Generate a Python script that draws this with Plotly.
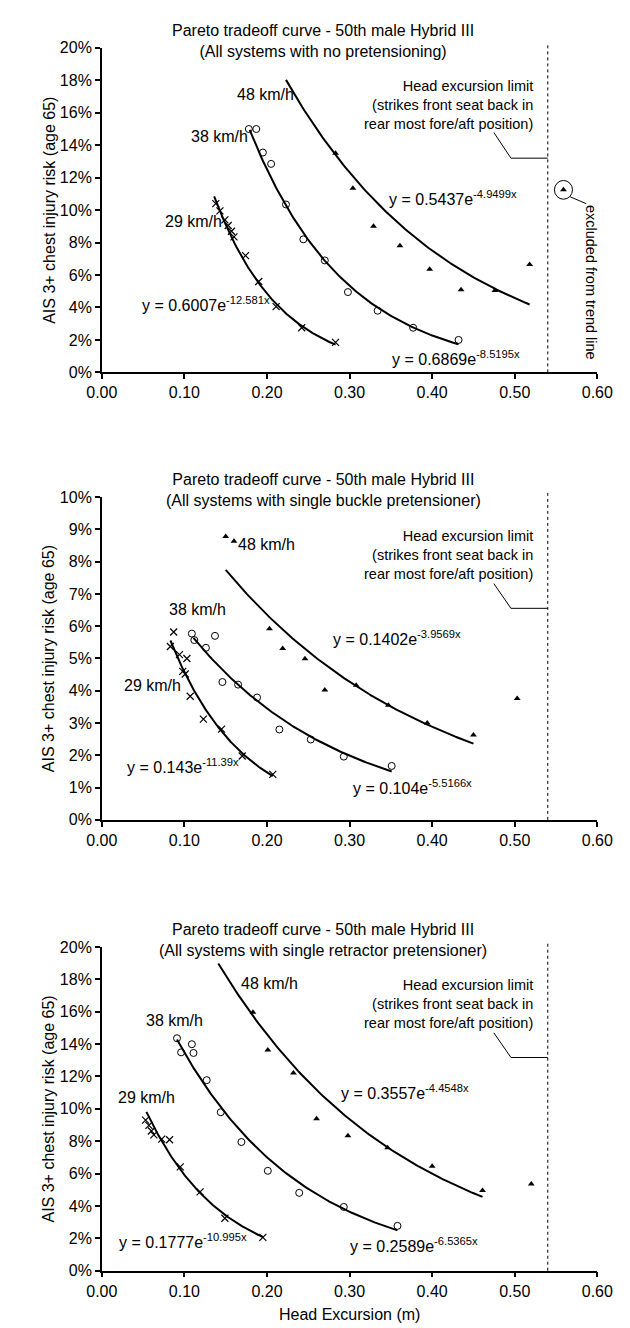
import numpy as np
import plotly.graph_objects as go

W, H = 630, 1328
FONT = "Liberation Sans, Arial, Helvetica, sans-serif"

# ---------------- data ----------------
title_line1 = "Pareto tradeoff curve - 50th male Hybrid III"
title_line2 = ["(All systems with no pretensioning)",
               "(All systems with single buckle pretensioner)",
               "(All systems with single retractor pretensioner)"]
speed_labels = ["29 km/h", "38 km/h", "48 km/h"]
x_ticks = [0.0, 0.1, 0.2, 0.3, 0.4, 0.5, 0.6]
y_max = [20, 10, 20]
y_dtick = [2, 1, 2]
head_limit = 0.54

# Panel 1: no pretensioning (values in %)
p1_x29 = [0.138, 0.143, 0.149, 0.153, 0.157, 0.160, 0.174, 0.190, 0.211, 0.242, 0.283]
p1_y29 = [10.4, 9.95, 9.4, 9.05, 8.7, 8.35, 7.2, 5.6, 4.05, 2.75, 1.85]
p1_x38 = [0.178, 0.187, 0.195, 0.205, 0.223, 0.244, 0.270, 0.298, 0.334, 0.377, 0.432]
p1_y38 = [15.0, 15.0, 13.55, 12.85, 10.35, 8.2, 6.9, 4.95, 3.8, 2.75, 2.0]
p1_x48 = [0.283, 0.304, 0.329, 0.361, 0.397, 0.435, 0.476, 0.518]
p1_y48 = [13.5, 11.35, 9.0, 7.8, 6.35, 5.1, 5.05, 6.65]
p1_excl_x = [0.559]
p1_excl_y = [11.25]

# Panel 2: single buckle pretensioner
p2_x29 = [0.083, 0.087, 0.094, 0.103, 0.098, 0.101, 0.107, 0.123, 0.145, 0.170, 0.207]
p2_y29 = [5.37, 5.82, 5.12, 5.0, 4.6, 4.52, 3.83, 3.12, 2.81, 1.98, 1.41]
p2_x38 = [0.109, 0.112, 0.126, 0.137, 0.146, 0.165, 0.188, 0.215, 0.253, 0.293, 0.351]
p2_y38 = [5.77, 5.57, 5.33, 5.7, 4.27, 4.19, 3.79, 2.8, 2.49, 1.96, 1.67]
p2_x48 = [0.150, 0.160, 0.203, 0.219, 0.246, 0.270, 0.308, 0.347, 0.394, 0.450, 0.503]
p2_y48 = [8.78, 8.63, 5.92, 5.31, 4.99, 4.02, 4.17, 3.55, 3.0, 2.63, 3.76]

# Panel 3: single retractor pretensioner
p3_x29 = [0.053, 0.057, 0.060, 0.063, 0.0725, 0.082, 0.095, 0.119, 0.149, 0.195]
p3_y29 = [9.3, 8.98, 8.63, 8.39, 8.13, 8.09, 6.41, 4.87, 3.24, 2.06]
p3_x38 = [0.091, 0.096, 0.109, 0.111, 0.127, 0.144, 0.169, 0.201, 0.239, 0.293, 0.358]
p3_y38 = [14.36, 13.49, 13.99, 13.45, 11.77, 9.79, 7.95, 6.17, 4.81, 3.94, 2.77]
p3_x48 = [0.183, 0.201, 0.232, 0.260, 0.298, 0.346, 0.400, 0.461, 0.520]
p3_y48 = [15.96, 13.63, 12.21, 9.38, 8.33, 7.6, 6.45, 4.95, 5.36]

# Trend line equations y = a*exp(b*x) and drawn x-extents
p1_trend_a = [0.6007, 0.6869, 0.5437]
p1_trend_b = [-12.581, -8.5195, -4.9499]
p1_trend_x = [[0.136, 0.283], [0.179, 0.432], [0.223, 0.518]]
p2_trend_a = [0.143, 0.104, 0.1402]
p2_trend_b = [-11.39, -5.5166, -3.9569]
p2_trend_x = [[0.083, 0.207], [0.111, 0.351], [0.150, 0.450]]
p3_trend_a = [0.1777, 0.2589, 0.3557]
p3_trend_b = [-10.995, -6.5365, -4.4548]
p3_trend_x = [[0.054, 0.195], [0.091, 0.358], [0.141, 0.461]]

eq_text = {
    1: ["y = 0.6007e<sup>-12.581x</sup>", "y = 0.6869e<sup>-8.5195x</sup>", "y = 0.5437e<sup>-4.9499x</sup>"],
    2: ["y = 0.143e<sup>-11.39x</sup>", "y = 0.104e<sup>-5.5166x</sup>", "y = 0.1402e<sup>-3.9569x</sup>"],
    3: ["y = 0.1777e<sup>-10.995x</sup>", "y = 0.2589e<sup>-6.5365x</sup>", "y = 0.3557e<sup>-4.4548x</sup>"],
}

panels = {
    1: dict(xs=[p1_x29, p1_x38, p1_x48], ys=[p1_y29, p1_y38, p1_y48],
            a=p1_trend_a, b=p1_trend_b, tx=p1_trend_x),
    2: dict(xs=[p2_x29, p2_x38, p2_x48], ys=[p2_y29, p2_y38, p2_y48],
            a=p2_trend_a, b=p2_trend_b, tx=p2_trend_x),
    3: dict(xs=[p3_x29, p3_x38, p3_x48], ys=[p3_y29, p3_y38, p3_y48],
            a=p3_trend_a, b=p3_trend_b, tx=p3_trend_x),
}

# ---------------- layout geometry (pixels) ----------------
X_LEFT, X_RIGHT = 82, 604
P_TOP = {1: 32.3, 2: 487.3, 3: 943.0}
P_BOT = {1: 361.0, 2: 814.3, 3: 1271.0}


def px2x(px):
    return px / W


def px2y(py):
    return 1 - py / H


def xdata2px(xv):
    return X_LEFT + (xv - x_ticks[0]) / (x_ticks[-1] - x_ticks[0]) * (X_RIGHT - X_LEFT)


def ydata2px(i, yv):
    return P_BOT[i] - yv / y_max[i - 1] * (P_BOT[i] - P_TOP[i])


markers = [
    dict(symbol="x-thin-open", size=7, line=dict(width=1.2, color="black"), color="black"),
    dict(symbol="circle-open", size=7, line=dict(width=1, color="black"), color="black"),
    dict(symbol="triangle-up", size=6, color="black", line=dict(width=0)),
]

fig = go.Figure()
annotations = []
shapes = []

for i in (1, 2, 3):
    xa = "x" if i == 1 else f"x{i}"
    ya = "y" if i == 1 else f"y{i}"
    p = panels[i]
    for k in range(3):
        fig.add_trace(go.Scatter(x=p["xs"][k], y=p["ys"][k], mode="markers",
                                 marker=markers[k], xaxis=xa, yaxis=ya,
                                 showlegend=False, cliponaxis=False))
        xx = np.linspace(p["tx"][k][0], p["tx"][k][1], 120)
        yy = p["a"][k] * np.exp(p["b"][k] * xx) * 100
        fig.add_trace(go.Scatter(x=xx, y=yy, mode="lines",
                                 line=dict(color="black", width=2),
                                 xaxis=xa, yaxis=ya, showlegend=False,
                                 hoverinfo="skip"))
    if i == 1:
        fig.add_trace(go.Scatter(x=p1_excl_x, y=p1_excl_y, mode="markers",
                                 marker=markers[2], xaxis=xa, yaxis=ya,
                                 showlegend=False, cliponaxis=False))

    dom_y = [px2y(P_BOT[i]), px2y(P_TOP[i])]
    axis_common = dict(showline=True, linecolor="black", linewidth=1.5,
                       ticks="outside", ticklen=5, tickwidth=1.5, tickcolor="black",
                       showgrid=False, zeroline=False,
                       tickfont=dict(family=FONT, size=16, color="black"))
    fig.update_layout(**{
        ("xaxis" if i == 1 else f"xaxis{i}"): dict(
            domain=[px2x(X_LEFT), px2x(X_RIGHT)], range=[x_ticks[0], x_ticks[-1]],
            tickvals=x_ticks, tickformat=".2f", anchor=ya, **axis_common),
        ("yaxis" if i == 1 else f"yaxis{i}"): dict(
            domain=dom_y, range=[0, y_max[i - 1]], dtick=y_dtick[i - 1],
            ticksuffix="%", anchor=xa, **axis_common),
    })

    # head excursion limit line (dotted)
    xl = xdata2px(head_limit)
    shapes.append(dict(type="line", xref="paper", yref="paper",
                       x0=px2x(xl), x1=px2x(xl), y0=px2y(P_BOT[i]), y1=px2y(P_TOP[i] - 5.5),
                       line=dict(color="black", width=1, dash="dot")))

    # titles (two lines, second line level with the top tick)
    annotations.append(dict(text=title_line1 + "<br>" + title_line2[i - 1],
                            x=px2x(315), y=px2y(P_TOP[i] - 7), xref="paper", yref="paper",
                            showarrow=False, xanchor="center", yanchor="middle",
                            font=dict(family=FONT, size=16, color="black")))
    # y-axis title
    annotations.append(dict(text="AIS 3+ chest injury risk (age 65)",
                            x=px2x(26), y=px2y((P_TOP[i] + P_BOT[i]) / 2),
                            xref="paper", yref="paper", showarrow=False, textangle=-90,
                            xanchor="center", yanchor="middle",
                            font=dict(family=FONT, size=16, color="black")))

# ---- text annotations positions (pixels) ----
speed_pos = {1: [(179, 208), (206, 122), (254, 80)],
             2: [(135, 678), (183, 601), (255, 535)],
             3: [(129, 1096), (159, 1018), (259, 980)]}
eq_pos = {1: [(122, 294), (386, 349), (382, 187)],
          2: [(106, 762), (345, 783), (323, 633)],
          3: [(98, 1243), (341, 1247), (332, 1092)]}
head_text_y = {1: 90, 2: 546, 3: 1001}
leader_pts = {1: [(495, 118), (513, 144)],
              2: [(495, 575), (513, 600)],
              3: [(495, 1030), (513, 1055)]}

for i in (1, 2, 3):
    for k in range(3):
        sx, sy = speed_pos[i][k]
        annotations.append(dict(text=speed_labels[k], x=px2x(sx), y=px2y(sy),
                                xref="paper", yref="paper", showarrow=False,
                                xanchor="center", yanchor="middle",
                                font=dict(family=FONT, size=16, color="black")))
        ex, ey = eq_pos[i][k]
        annotations.append(dict(text=eq_text[i][k], x=px2x(ex), y=px2y(ey - 2.5),
                                xref="paper", yref="paper", showarrow=False,
                                xanchor="left", yanchor="middle",
                                font=dict(family=FONT, size=16, color="black")))
    annotations.append(dict(text="Head excursion limit<br>(strikes front seat back in<br>rear most fore/aft position)",
                            x=px2x(538), y=px2y(head_text_y[i]), xref="paper", yref="paper",
                            showarrow=False, xanchor="right", yanchor="middle", align="right",
                            font=dict(family=FONT, size=14.5, color="black")))
    (ax0, ay0), (ax1, ay1) = leader_pts[i]
    xl = xdata2px(head_limit)
    shapes.append(dict(type="path", xref="paper", yref="paper",
                       path=f"M {px2x(ax0)},{px2y(ay0)} L {px2x(ax1)},{px2y(ay1)} L {px2x(xl)},{px2y(ay1)}",
                       line=dict(color="black", width=1)))

# excluded point circle and note (panel 1)
ecx, ecy = xdata2px(p1_excl_x[0]), ydata2px(1, p1_excl_y[0])
r = 9.5
shapes.append(dict(type="circle", xref="paper", yref="paper",
                   x0=px2x(ecx - r), x1=px2x(ecx + r), y0=px2y(ecy + r), y1=px2y(ecy - r),
                   line=dict(color="black", width=1)))
shapes.append(dict(type="line", xref="paper", yref="paper",
                   x0=px2x(ecx + 7), y0=px2y(ecy + 7), x1=px2x(ecx + 24), y1=px2y(ecy + 14),
                   line=dict(color="black", width=1)))
annotations.append(dict(text="excluded from trend line", x=px2x(598), y=px2y(270),
                        xref="paper", yref="paper", showarrow=False, textangle=90,
                        xanchor="center", yanchor="middle",
                        font=dict(family=FONT, size=14.5, color="black")))

# x-axis title (bottom panel only)
annotations.append(dict(text="Head Excursion (m)", x=px2x((X_LEFT + X_RIGHT) / 2), y=px2y(1315),
                        xref="paper", yref="paper", showarrow=False,
                        xanchor="center", yanchor="middle",
                        font=dict(family=FONT, size=16, color="black")))

fig.update_layout(width=W, height=H, margin=dict(l=0, r=0, t=0, b=0),
                  paper_bgcolor="white", plot_bgcolor="white",
                  annotations=annotations, shapes=shapes,
                  font=dict(family=FONT, size=16, color="black"))

fig.write_html("out.html")
